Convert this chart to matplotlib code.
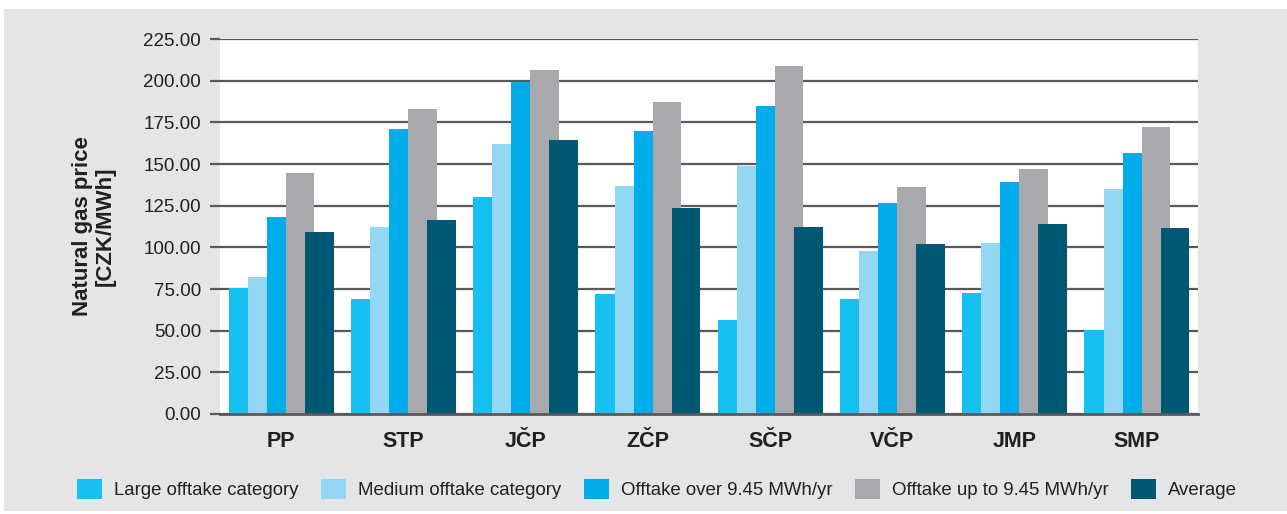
import numpy as np
import matplotlib
matplotlib.use("Agg")
import matplotlib.pyplot as plt
from matplotlib.patches import Rectangle

regions = ["PP", "STP", "JČP", "ZČP", "SČP", "VČP", "JMP", "SMP"]
series_names = ["Large offtake category", "Medium offtake category",
                "Offtake over 9.45 MWh/yr", "Offtake up to 9.45 MWh/yr", "Average"]
large = [75.5, 69.0, 130.0, 72.0, 56.5, 69.0, 72.5, 50.5]
medium = [82.5, 112.5, 162.0, 137.0, 149.0, 98.0, 102.5, 135.0]
over_945 = [118.5, 171.0, 199.5, 170.0, 185.0, 126.5, 139.0, 156.5]
upto_945 = [144.5, 183.0, 206.5, 187.0, 209.0, 136.0, 147.0, 172.0]
average = [109.5, 116.5, 164.5, 123.5, 112.0, 102.0, 114.0, 111.5]
yticks = [0, 25, 50, 75, 100, 125, 150, 175, 200, 225]

colors = ["#16c0f0", "#94d7f5", "#00adea", "#a7a9ac", "#005872"]
bg = "#e4e5e7"
txt = "#231f20"
grid_col = "#58595b"

plt.rcParams["font.family"] = ["Liberation Sans", "DejaVu Sans"]

W, H = 1287, 514
fig = plt.figure(figsize=(W / 100, H / 100), dpi=100, facecolor="white")
fig.add_artist(Rectangle((4 / W, 3 / H), 1 - 4 / W, (511 - 9) / H,
                         transform=fig.transFigure, facecolor=bg,
                         edgecolor="none", zorder=0))

ax = fig.add_axes([220 / W, 1 - 414 / H, 978 / W, (414 - 39) / H])
ax.set_facecolor("white")

x = np.arange(len(regions))
bar_w = 0.234
step = 0.156
all_series = [large, medium, over_945, upto_945, average]
offset0 = -(4 * step + bar_w) / 2 + bar_w / 2
for i, (vals, name) in enumerate(zip(all_series, series_names)):
    ax.bar(x + offset0 + i * step, vals, width=bar_w, color=colors[i],
           label=name, zorder=3 + i, linewidth=0)

ax.set_xlim(-0.5, len(regions) - 0.5)
ax.set_ylim(0, 225)
ax.set_yticks(yticks)
ax.set_yticklabels([f"{v:.2f}" for v in yticks])
ax.yaxis.grid(True, color=grid_col, linewidth=1.6, zorder=1)
ax.set_axisbelow(True)
for s in ["top", "right", "left"]:
    ax.spines[s].set_visible(False)
ax.spines["bottom"].set_color(grid_col)
ax.spines["bottom"].set_linewidth(2)
ax.spines["bottom"].set_zorder(10)

ax.tick_params(axis="y", length=7.2, width=1.6, color=grid_col, pad=6.5,
               labelsize=13.5, labelcolor=txt)
ax.tick_params(axis="x", length=0, pad=12, labelsize=15.5, labelcolor=txt)
ax.set_xticks(x)
ax.set_xticklabels(regions, fontweight="bold")

ax.set_ylabel("Natural gas price\n[CZK/MWh]", fontsize=16, fontweight="bold",
              color=txt, linespacing=1.1, labelpad=20)

fig.legend(loc="center left", bbox_to_anchor=(77 / W, 1 - 489 / H), ncol=5,
           frameon=False, fontsize=13.4, handlelength=1.35, handleheight=1.35,
           handletextpad=0.65, columnspacing=1.2, labelcolor=txt,
           borderaxespad=0, borderpad=0)

fig.savefig("out.png", dpi=100, facecolor=fig.get_facecolor())
